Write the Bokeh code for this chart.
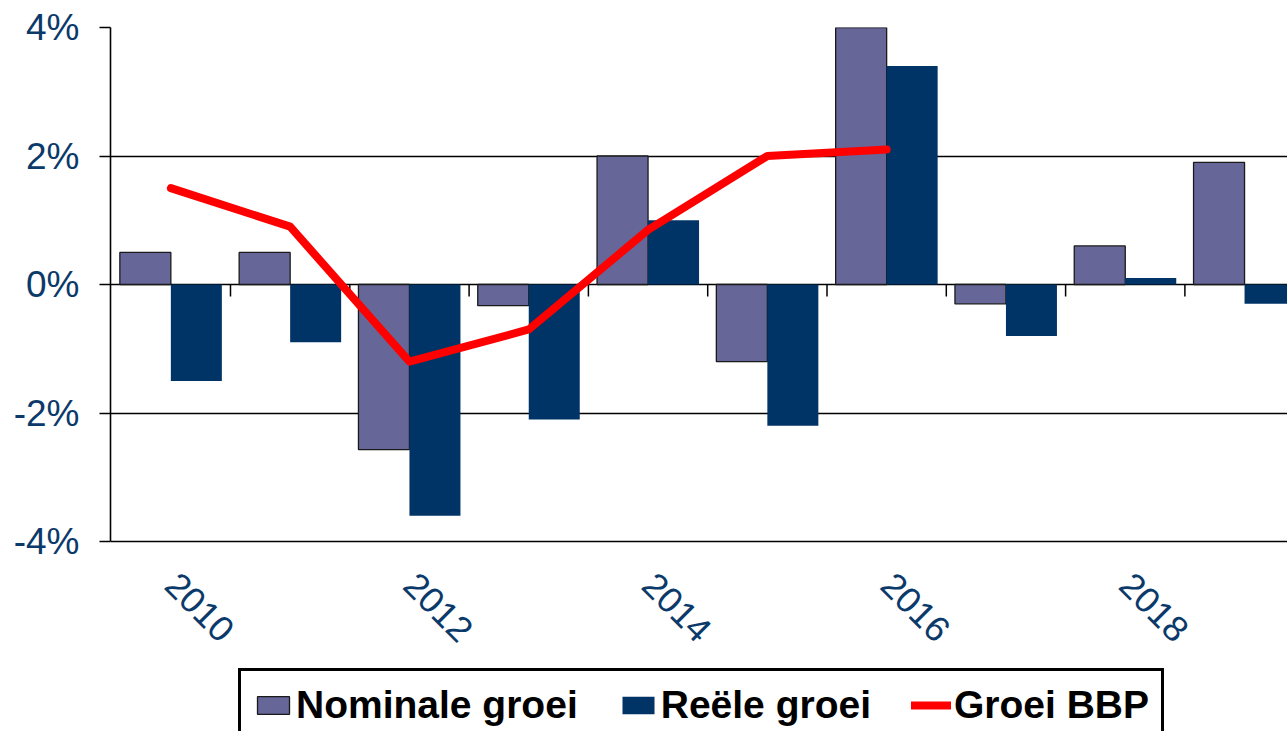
import math
from bokeh.plotting import figure
from bokeh.models import Range1d, FixedTicker, PrintfTickFormatter, Legend, LegendItem, ColumnDataSource
from bokeh.core.properties import value
from bokeh.embed import file_html
from bokeh.resources import INLINE

years = [2010, 2011, 2012, 2013, 2014, 2015, 2016, 2017, 2018, 2019]
nominale_groei = [0.5, 0.5, -2.57, -0.33, 2.0, -1.2, 4.0, -0.3, 0.6, 1.9]
reele_groei = [-1.5, -0.9, -3.6, -2.1, 1.0, -2.2, 3.4, -0.8, 0.1, -0.3]
bbp_years = [2010, 2011, 2012, 2013, 2014, 2015, 2016]
groei_bbp = [1.5, 0.9, -1.2, -0.7, 0.85, 2.0, 2.1]
x_tick_labels = ["2010", "2012", "2014", "2016", "2018"]
y_ticks = [-4, -2, 0, 2, 4]

NOM_COLOR = "#666699"
REAL_COLOR = "#003366"
LINE_COLOR = "#FF0000"
TEXT_BLUE = "#0B3A6A"

W, H = 1287, 731
LEFT, TOP = 110, 27
plot_h_px = 514                      # height of the -4%..4% band in pixels
px_per_unit = plot_h_px / (y_ticks[-1] - y_ticks[0])
frame_h = H - TOP
y_start = y_ticks[-1] - frame_h / px_per_unit
cat_px = 119.3
x_start = years[0] - 0.5 - (120 - cat_px) / cat_px
x_end = x_start + (W - LEFT) / cat_px

bar_w = 0.4275
offset = bar_w / 2

p = figure(width=W, height=H, output_backend="svg", toolbar_location=None,
           x_range=Range1d(x_start, x_end), y_range=Range1d(y_start, y_ticks[-1]),
           min_border_left=LEFT, min_border_top=TOP, min_border_right=0, min_border_bottom=0)
p.outline_line_color = None
p.background_fill_color = "white"
p.border_fill_color = "white"
p.xaxis.visible = False

src = ColumnDataSource(dict(
    x_nom=[y - offset for y in years],
    x_real=[y + offset for y in years],
    nom=nominale_groei, real=reele_groei))

r_nom = p.vbar(x="x_nom", top="nom", bottom=0, width=bar_w, source=src,
               fill_color=NOM_COLOR, line_color="#1a1a1a", line_width=1.3)
r_real = p.vbar(x="x_real", top="real", bottom=0, width=bar_w, source=src,
                fill_color=REAL_COLOR, line_color=None)

# category boundary ticks along the zero line
bx = [y + 0.5 for y in years[:-1]]
p.segment(x0=bx, x1=bx, y0=[0] * len(bx), y1=[-12 / px_per_unit] * len(bx),
          line_color="black", line_width=1.5)

r_line = p.line(bbp_years, groei_bbp, line_color=LINE_COLOR, line_width=8,
                line_cap="round", line_join="round")

# rotated year labels under the -4% line
lab_x = [int(t) for t in x_tick_labels]
p.text(x=lab_x, y=[y_ticks[0]] * len(lab_x), text=x_tick_labels,
       x_offset=1, y_offset=37, angle=-math.pi / 4,
       text_align="left", text_baseline="middle",
       text_font=value("Liberation Sans"), text_font_size="36px", text_color=TEXT_BLUE)

# y axis
p.yaxis.bounds = (y_ticks[0], y_ticks[-1])
p.yaxis.ticker = FixedTicker(ticks=y_ticks)
p.yaxis.formatter = PrintfTickFormatter(format="%d%%")
p.yaxis.major_label_text_font = "Liberation Sans"
p.yaxis.major_label_text_font_size = "37px"
p.yaxis.major_label_text_color = TEXT_BLUE
p.yaxis.major_label_standoff = 20
p.yaxis.axis_line_color = "black"
p.yaxis.axis_line_width = 1.6
p.yaxis.major_tick_line_color = "black"
p.yaxis.major_tick_line_width = 1.3
p.yaxis.major_tick_out = 11
p.yaxis.major_tick_in = 0
p.yaxis.minor_tick_line_color = None

p.xgrid.grid_line_color = None
p.ygrid.ticker = FixedTicker(ticks=y_ticks)
p.ygrid.grid_line_color = "black"
p.ygrid.grid_line_width = 1.3

legend = Legend(items=[
    LegendItem(label="Nominale groei", renderers=[r_nom]),
    LegendItem(label="Reële groei", renderers=[r_real]),
    LegendItem(label="Groei BBP", renderers=[r_line]),
], orientation="horizontal", location=(128, -11))
legend.label_text_font = "Liberation Sans"
legend.label_text_font_style = "bold"
legend.label_text_font_size = "39px"
legend.label_text_color = "black"
legend.glyph_width = 40
legend.glyph_height = 22
legend.label_standoff = 3
legend.spacing = 40
legend.padding = 12
legend.margin = 0
legend.border_line_color = "black"
legend.border_line_alpha = 1
legend.border_line_width = 3
legend.background_fill_alpha = 1
p.add_layout(legend, "center")

open("out.html", "w").write(file_html(p, INLINE))
